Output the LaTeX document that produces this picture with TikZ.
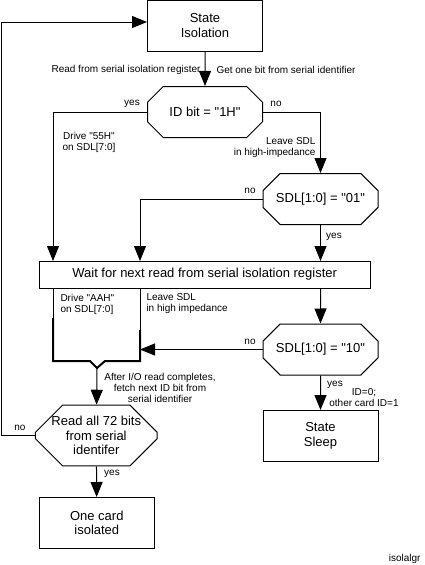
\documentclass[tikz,border=0pt]{standalone}
\usepackage{fontspec}
\setmainfont{Liberation Sans}[Ligatures=TeXOff]
\usetikzlibrary{arrows.meta,shapes.misc}

\begin{document}
\begin{tikzpicture}[x=1pt,y=-1pt,line width=1pt,
        >={Triangle[length=15pt,width=12pt]},
        octa/.style={chamfered rectangle, chamfered rectangle xsep=16pt,
            chamfered rectangle ysep=11pt}]
        \useasboundingbox (0,0) rectangle (424,565);

        \begin{scope}[every node/.style = {draw, align=center, inner sep=0pt,
                minimum width=115pt, minimum height=51pt,
                font=\fontsize{13}{14.5}\selectfont}]
            \node (SI) at (205,25.5)    {State\\Isolation};
            \node[octa] (ID) at (205,112)   {ID bit = "1H"};
            \node[octa] (S01) at (320.5,199) {SDL[1:0] = "01"};
            \node[minimum width=331pt, minimum height=27pt] (W) at (204.7,274.5)
                {Wait for next read from serial isolation register};
            \node[octa] (S10) at (320.5,349.5) {SDL[1:0] = "10"};
            \node[octa, minimum width=116pt] (RD) at (96.3,435.5) {Read all 72 bits\\from serial\\identifer};
            \node (SS) at (320.5,436)    {State\\Sleep};
            \node (OC) at (96.8,523)     {One card\\isolated};
        \end{scope}

        \coordinate (a1) at (53,261);
        \coordinate (a2) at (140,261);
        \coordinate (a3) at (320.5,261);
        \coordinate (b1) at (320.5,288);
        \coordinate (b2) at (140,349.5);
        \coordinate (ML) at (53,288);
        \coordinate (MR) at (140,288);
        \coordinate (MN) at (97,368);
        \coordinate (lft) at (1,435.5);

        \draw[->] (SI) -- (ID);
        \draw[->] (ID.west) -| (a1);
        \draw[->] (ID.east) -| (S01.north);
        \draw[->] (S01.west) -| (a2);
        \draw[->] (S01) -- (a3);
        \draw[->] (b1) -- (S10);
        \draw[->] (S10.west) -- (b2);
        \draw (ML) -- (53,318);
        \draw[line width=2pt] (53,318) |- (90,361) -- (MN) -- (105,361) -| (140,330);
        \draw (140,330) -- (MR);
        \draw[->] (MN) -- (RD);
        \draw[->] (RD.west) -- (lft) |- ([yshift=3.5pt]SI.west);
        \draw[->] (RD) -- (OC);
        \draw[->] (S10) -- (SS);

        \begin{scope}[every node/.style={inner sep=0pt, align=center,
                font=\fontsize{10}{11}\selectfont}]
            \node[anchor=east] (t1) at (201,70) {Read from serial isolation register};
            \node[anchor=west] (t2) at (216,70) {Get one bit from serial identifier};
            \node (y1) at (132,104) {yes};
            \node (n1) at (276,104) {no};
            \node (d1) at (89,142) {Drive "55H"\\on SDL[7:0]};
            \node[anchor=east, align=right] (l1) at (316,148) {Leave SDL\\in high-impedance};
            \node (n2) at (250,191) {no};
            \node (y2) at (334,237) {yes};
            \node[anchor=west, align=left] (d2) at (60,304) {Drive "AAH"\\on SDL[7:0]};
            \node[anchor=west, align=left] (l2) at (146,304) {Leave SDL\\in high impedance};
            \node (n3) at (250,342) {no};
            \node (af) at (160,388) {After I/O read completes,\\fetch next ID bit from\\serial identifier};
            \node (n4) at (20,428) {no};
            \node (y3) at (112,474) {yes};
            \node (y4) at (335,385) {yes};
            \node (id) at (364,398) {ID=0;\\other card ID=1};
            \node[anchor=east] (fn) at (421,559) {isolalgr};
        \end{scope}
    \end{tikzpicture}
\end{document}
